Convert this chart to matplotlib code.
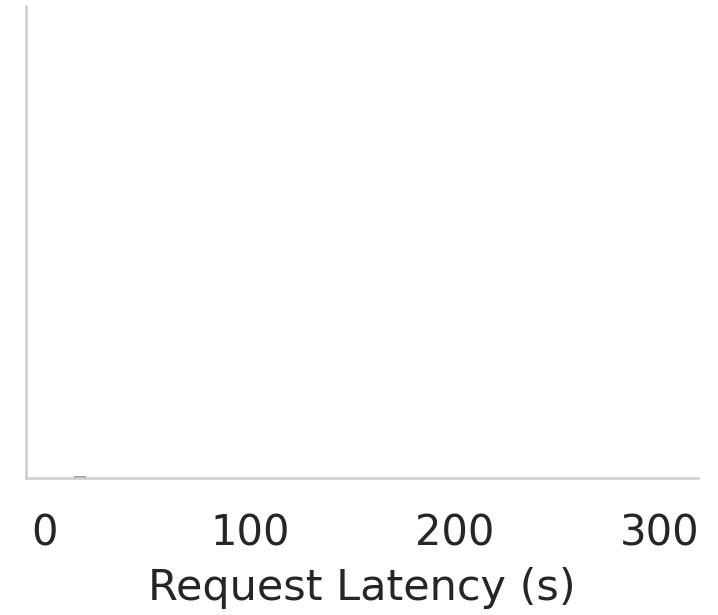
import matplotlib
matplotlib.use("Agg")
import matplotlib.pyplot as plt

# histogram of request latency (almost everything is off the visible range)
bin_left = [0, 7, 14, 21, 100, 200, 300]
bin_count = [0.0, 0.0, 1.0, 0.0, 0.0, 0.0, 0.0]
bin_width = 6
ticks = [0, 100, 200, 300]


def main():
    fig = plt.figure(figsize=(7.18, 6.15), dpi=100)
    ax = fig.add_axes([0.036, 0.223, 0.936, 0.767])

    ax.bar(bin_left, bin_count, width=bin_width, align="edge",
           color="#a0a0a0", edgecolor="none")

    ax.set_xlim(-9.3, 318.5)
    ax.set_ylim(0, 220)
    ax.set_xticks(ticks)
    ax.set_yticks([])
    ax.tick_params(axis="x", length=0, pad=25, labelsize=30, labelcolor="#262626")
    ax.set_xlabel("Request Latency (s)", fontsize=31, color="#262626", labelpad=9)

    for side in ["top", "right"]:
        ax.spines[side].set_visible(False)
    for side in ["left", "bottom"]:
        ax.spines[side].set_color("#cccccc")
        ax.spines[side].set_linewidth(1.8)

    fig.savefig("out.png", dpi=100)
    return 0


if __name__ == "__main__":
    main()
